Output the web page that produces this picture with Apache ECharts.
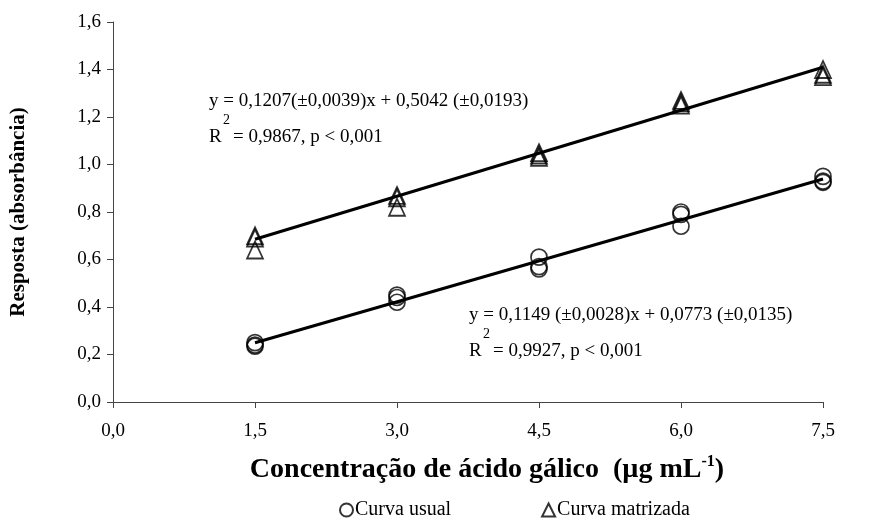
<!DOCTYPE html>
<html>
<head>
<meta charset="utf-8">
<script src="https://cdn.jsdelivr.net/npm/echarts@6/dist/echarts.min.js"></script>
<style>
  html, body { margin: 0; padding: 0; background: #fff; }
  #chart { width: 881px; height: 529px; }
</style>
</head>
<body>
<div id="chart"></div>
<script>
// Gallic acid concentrations (µg mL-1), triplicate readings per level
const concentrations = [1.5, 1.5, 1.5, 3.0, 3.0, 3.0, 4.5, 4.5, 4.5, 6.0, 6.0, 6.0, 7.5, 7.5, 7.5];
const usualValues    = [0.25, 0.24, 0.235, 0.45, 0.44, 0.42, 0.61, 0.57, 0.56, 0.80, 0.79, 0.74, 0.95, 0.93, 0.925];
const matrixValues   = [0.70, 0.69, 0.64, 0.87, 0.86, 0.82, 1.05, 1.04, 1.03, 1.27, 1.26, 1.25, 1.40, 1.38, 1.37];

// Fitted calibration lines: [slope, intercept]
const usualFit  = [0.1149, 0.0773];
const matrixFit = [0.1207, 0.5042];
const fitRange  = [1.5, 7.5];

const seriesNames = ['Curva usual', 'Curva matrizada'];
const xTicks = { min: 0, max: 7.5, interval: 1.5 };
const yTicks = { min: 0, max: 1.6, interval: 0.2 };

const FONT = '"Liberation Serif", "Times New Roman", serif';

function pairs(xs, ys) { return xs.map((x, i) => [x, ys[i]]); }
function fitLine(fit) { return fitRange.map(x => [x, fit[0] * x + fit[1]]); }
function comma(v, d) { return v.toFixed(d).replace('.', ','); }

// Equation block: fit line text, then "R²" line with a raised 2
function equationBlock(x, y, eqText, r2Text) {
  const base = '19px ' + FONT;
  return {
    type: 'group', left: x, top: y,
    children: [
      { type: 'text', x: 0, y: 0, style: { text: eqText, font: base, fill: '#000' } },
      { type: 'text', x: 0, y: 36, style: { text: 'R', font: base, fill: '#000' } },
      { type: 'text', x: 14, y: 21, style: { text: '2', font: '14px ' + FONT, fill: '#000' } },
      { type: 'text', x: 24, y: 36, style: { text: r2Text, font: base, fill: '#000' } }
    ]
  };
}

const chart = echarts.init(document.getElementById('chart'), null, { renderer: 'canvas' });

chart.setOption({
  animation: false,
  backgroundColor: '#fff',
  grid: { left: 112, right: 58, top: 22, bottom: 127 },
  xAxis: {
    type: 'value',
    min: xTicks.min, max: xTicks.max, interval: xTicks.interval,
    axisLine: { show: true, lineStyle: { color: '#444', width: 1 } },
    axisTick: { show: true, inside: false, length: 6, lineStyle: { color: '#444' } },
    splitLine: { show: false },
    axisLabel: { fontFamily: FONT, fontSize: 19, color: '#000', margin: 20, formatter: v => comma(v, 1) },
    name: '{t|Concentração de ácido gálico  (µg mL}{s|-1}{t|)}',
    nameLocation: 'middle',
    nameGap: 52,
    nameTextStyle: {
      rich: {
        t: { fontFamily: FONT, fontSize: 28, fontWeight: 'bold', color: '#000', lineHeight: 32 },
        s: { fontFamily: FONT, fontSize: 16, fontWeight: 'bold', color: '#000', verticalAlign: 'top', lineHeight: 32, padding: [0, 0, 11, 0] }
      },
      padding: [0, 0, 0, 38]
    }
  },
  yAxis: {
    type: 'value',
    min: yTicks.min, max: yTicks.max, interval: yTicks.interval,
    axisLine: { show: true, lineStyle: { color: '#444', width: 1 } },
    axisTick: { show: true, inside: false, length: 6, lineStyle: { color: '#444' } },
    splitLine: { show: false },
    axisLabel: { fontFamily: FONT, fontSize: 19, color: '#000', margin: 12, formatter: v => comma(v, 1) },
    name: 'Resposta (absorbância)',
    nameLocation: 'middle',
    nameGap: 84,
    nameTextStyle: { fontFamily: FONT, fontSize: 21, fontWeight: 'bold', color: '#000' }
  },
  legend: {
    data: seriesNames,
    bottom: 4,
    left: 334,
    itemWidth: 13,
    itemHeight: 13,
    itemGap: 90,
    textStyle: { fontFamily: FONT, fontSize: 20, color: '#000', padding: [0, 0, 0, -3] }
  },
  graphic: [
    equationBlock(209, 92, 'y = 0,1207(±0,0039)x + 0,5042 (±0,0193)', '= 0,9867, p < 0,001'),
    equationBlock(469, 306, 'y = 0,1149 (±0,0028)x + 0,0773 (±0,0135)', '= 0,9927, p < 0,001')
  ],
  series: [
    {
      name: seriesNames[0],
      type: 'scatter',
      symbol: 'circle',
      symbolSize: 16,
      data: pairs(concentrations, usualValues),
      itemStyle: { color: 'rgba(255,255,255,0)', borderColor: '#000', borderWidth: 1.7 },
      z: 3
    },
    {
      name: seriesNames[1],
      type: 'scatter',
      symbol: 'triangle',
      symbolSize: [16, 17],
      data: pairs(concentrations, matrixValues),
      itemStyle: { color: 'rgba(255,255,255,0)', borderColor: '#000', borderWidth: 1.7 },
      z: 3
    },
    {
      type: 'line',
      data: fitLine(usualFit),
      showSymbol: false,
      lineStyle: { color: '#000', width: 3 },
      z: 4
    },
    {
      type: 'line',
      data: fitLine(matrixFit),
      showSymbol: false,
      lineStyle: { color: '#000', width: 3 },
      z: 4
    }
  ]
});
</script>
</body>
</html>
